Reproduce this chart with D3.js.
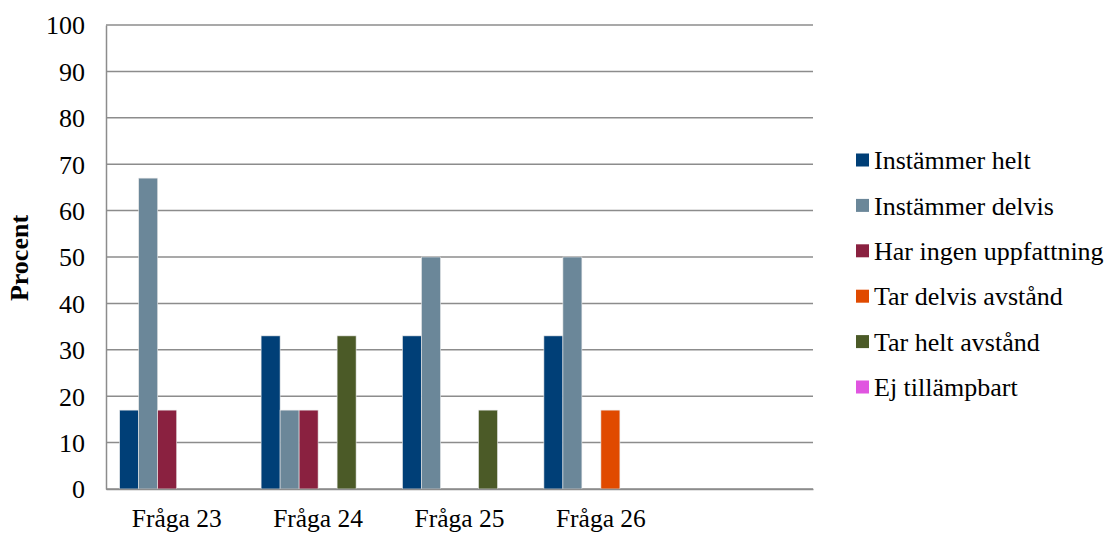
<!DOCTYPE html>
<html><head><meta charset="utf-8">
<script src="https://cdn.jsdelivr.net/npm/d3@7"></script>
<style>body{margin:0;background:#fff}svg{display:block}text{font-family:"Liberation Serif","Times New Roman",serif;fill:#000}</style>
</head><body><svg id="c" width="1112" height="534"></svg>
<script>
const categories = ["Fråga 23","Fråga 24","Fråga 25","Fråga 26",""];
const seriesNames = ["Instämmer helt","Instämmer delvis","Har ingen uppfattning","Tar delvis avstånd","Tar helt avstånd","Ej tillämpbart"];
const seriesColors = ["#003F77","#6B8799","#8A2140","#E04A00","#4B5A27","#E055E0"];
const instammerHelt = [17,33,33,33,0];
const instammerDelvis = [67,17,50,50,0];
const harIngen = [17,17,0,0,0];
const tarDelvis = [0,0,0,17,0];
const tarHelt = [0,33,17,0,0];
const ejTillampbart = [0,0,0,0,0];
const yTicks = [0,10,20,30,40,50,60,70,80,90,100];

const series = [instammerHelt,instammerDelvis,harIngen,tarDelvis,tarHelt,ejTillampbart];
const svg = d3.select("#c");
const L=106,R=813,T=25,B=489;
const x = d3.scaleBand().domain(d3.range(categories.length)).range([L,R]);
const inner = d3.scaleBand().domain(d3.range(seriesNames.length)).range([13.7, x.bandwidth()-13.7]);
const y = d3.scaleLinear().domain([0,100]).range([B,T]);

svg.append("g").selectAll("line").data(yTicks).join("line")
  .attr("x1",L).attr("x2",R).attr("y1",d=>y(d)).attr("y2",d=>y(d))
  .attr("stroke","#8c8c8c").attr("stroke-width",1.5);
const ya = svg.append("g").attr("transform",`translate(${L},0)`)
  .call(d3.axisLeft(y).tickValues(yTicks).tickSize(0).tickPadding(21));
ya.select(".domain").attr("stroke","#8c8c8c").attr("stroke-width",1.5);
ya.selectAll("text").style("font-size","26px").style("font-family","'Liberation Serif'").attr("dy","0.34em");

const data=[];
series.forEach((s,si)=>s.forEach((v,ci)=>{ if(v>0) data.push({si,ci,v}); }));
svg.append("g").selectAll("rect").data(data).join("rect")
  .attr("x",d=>x(d.ci)+inner(d.si)).attr("width",inner.bandwidth())
  .attr("y",d=>y(d.v)).attr("height",d=>y(0)-y(d.v))
  .attr("fill",d=>seriesColors[d.si]).attr("stroke","#e8e8e8").attr("stroke-width",0.6);

const xa = svg.append("g").attr("transform",`translate(0,${B})`)
  .call(d3.axisBottom(x).tickFormat(i=>categories[i]).tickSize(0).tickPadding(20));
xa.select(".domain").attr("stroke","#8c8c8c").attr("stroke-width",1.5);
xa.selectAll("text").style("font-size","25.5px").style("font-family","'Liberation Serif'");

svg.append("text").attr("transform",`translate(28,258) rotate(-90)`).attr("text-anchor","middle")
  .style("font-size","26px").attr("font-weight","bold").text("Procent");

const lg = svg.append("g").selectAll("g").data(seriesNames).join("g")
  .attr("transform",(d,i)=>`translate(856,${160+i*45.4})`);
lg.append("rect").attr("x",0).attr("y",-6.5).attr("width",13).attr("height",13).attr("fill",(d,i)=>seriesColors[i]);
lg.append("text").attr("x",18).attr("dy","0.35em").style("font-size","26px").text(d=>d);
</script></body></html>
